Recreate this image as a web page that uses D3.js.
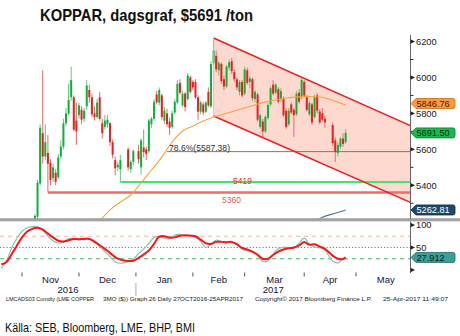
<!DOCTYPE html>
<html><head><meta charset="utf-8">
<script src="https://cdn.jsdelivr.net/npm/d3@7"></script>
<style>body{margin:0;background:#fff;} svg{display:block;}</style>
</head><body><svg id="c" width="460" height="336"></svg>
<script>
// ---------------- DATA ----------------
const title = "KOPPAR, dagsgraf, $5691 /ton";
const source = "Källa: SEB, Bloomberg, LME, BHP, BMI";
const footer = ["LMCADS03 Comdty (LME COPPER", "3MO ($)) Graph 26  Daily 27OCT2016-25APR2017", "Copyright© 2017 Bloomberg Finance L.P.", "25-Apr-2017 11:49:07"];
const firstDay = "2016-10-27", lastDay = "2017-04-25";
const holidays = ["2016-12-26", "2016-12-27", "2017-01-02", "2017-04-14", "2017-04-17"];

const opens  = [4840,4860,4870, 4890,4950,4985,4970,5020,5080,5225,5410,5690,5560,5580,5525,5440,5470,5445,5560,5615,5745,5800,5890,5890,5760,5790,5820,5770,5840,5930,5890,5800,5780,5890,5745,5725,5740,5745,5640,5540,5500,5490, 5600,5490,5530, 5590,5500,5610,5600,5590,5740,5770,5905,5860,5900,5760,5800,5755,5725,5805,5860,5970,5845,5910,5880,6000,5975,5975,5890,5810,5850,5810,5920,5840,6080,6120,6040,6075,5990,5950,6055,6090,6030,5990,5920,5975,5910,6040,5975,5990,5880,5905,5725,5755,5700,5775,5850,5960,5915,5935,5880,5880,5815,5740,5850,5820,5795,5915,5890,5975,5890,5795,5850,5780,5900,5810,5800,5770, 5735,5650,5580,5615,5660,5640];
const highs  = [4880,4890,4905, 4960,5000,5010,5030,5085,5240,5430,5740,6040,5740,5680,5545,5520,5490,5575,5650,5770,5830,5965,6060,5900,5860,5860,5840,5830,5985,5960,5910,5840,5880,5920,5770,5790,5790,5750,5655,5560,5530,5570, 5610,5540,5600, 5625,5660,5710,5615,5770,5780,5880,5925,5945,5910,5835,5825,5775,5815,5880,5985,5990,5925,5920,6025,6010,5985,5990,5900,5870,5865,5870,5945,6090,6215,6150,6090,6085,6010,6070,6100,6110,6045,6000,5985,5985,6060,6055,6010,6000,5930,5915,5800,5770,5790,5860,5950,5985,5970,5945,5940,5895,5830,5830,5860,5830,5925,5935,5997,5985,5900,5870,5860,5905,5915,5825,5830,5785, 5750,5665,5640,5670,5690,5712];
const lows   = [4820,4840,4850, 4880,4930,4950,4960,5000,5070,5200,5400,5520,5540,5360,5400,5420,5400,5435,5545,5600,5730,5790,5870,5700,5625,5770,5740,5750,5820,5860,5780,5760,5770,5760,5660,5710,5720,5620,5550,5455,5480,5419, 5480,5470,5510, 5520,5460,5555,5540,5580,5720,5760,5850,5845,5765,5740,5725,5680,5715,5795,5850,5905,5835,5810,5870,5910,5930,5880,5765,5795,5790,5800,5835,5830,6070,6030,6010,5965,5930,5940,6040,6020,5975,5930,5900,5890,5900,5960,5940,5870,5860,5755,5715,5669,5690,5765,5840,5900,5905,5855,5860,5780,5715,5730,5795,5669,5785,5855,5880,5890,5810,5785,5735,5770,5800,5740,5755,5720, 5620,5530,5560,5600,5615,5630];
const closes = [4860,4870,4885, 4950,4985,4970,5020,5075,5230,5415,5720,5560,5640,5520,5430,5500,5420,5555,5615,5745,5800,5875,5985,5710,5700,5845,5765,5815,5955,5890,5795,5780,5860,5770,5690,5760,5765,5640,5570,5495,5515,5540, 5500,5530,5590, 5545,5650,5585,5575,5760,5770,5865,5862,5930,5780,5815,5740,5720,5800,5865,5965,5915,5910,5835,6010,5920,5945,5890,5810,5860,5805,5860,5845,6075,6150,6045,6080,5980,5950,6060,6085,6035,5990,5945,5975,5900,6045,5970,5995,5885,5920,5765,5790,5700,5780,5847,5940,5910,5960,5865,5925,5790,5725,5815,5805,5790,5910,5865,5986,5900,5819,5858,5750,5890,5815,5750,5765,5750, 5635,5585,5625,5660,5630,5691.5];

// moving averages
const ma1Dates = ["2016-12-13","2016-12-19","2016-12-23","2016-12-29","2017-01-04","2017-01-10","2017-01-16","2017-01-20","2017-01-26","2017-02-01","2017-02-07","2017-02-13","2017-02-17","2017-02-23","2017-03-01","2017-03-07","2017-03-13","2017-03-17","2017-03-23","2017-03-29","2017-04-04","2017-04-12","2017-04-18","2017-04-20","2017-04-25"];
const ma1Values = [5201,5263,5307,5346,5413,5485,5557,5641,5702,5730,5758,5780,5797,5813,5830,5847,5864,5875,5886,5891,5894,5890,5872,5862,5846.76];
const ma2Dates = ["2017-04-07","2017-04-12","2017-04-19","2017-04-25"];
const ma2Values = [5200,5222,5245,5262.81];

// channel
const channelDates = ["2017-02-13", "2017-05-30"];
const channelUpper = [6220, 5732];
const channelLower = [5786, 5305];

// horizontal levels
const levelValues = [5419, 5360];
const levelStarts = ["2016-12-23", "2016-11-15"];
const levelLabels = ["5419", "5360"];
const fibValue = 5587.38, fibStart = "2017-01-18", fibLabel = "78.6%(5587.38)";

// oscillator
const rsiDates = ["2016-10-20","2016-10-24","2016-10-26","2016-10-28","2016-11-01","2016-11-03","2016-11-07","2016-11-09","2016-11-11","2016-11-15","2016-11-17","2016-11-21","2016-11-23","2016-11-25","2016-11-29","2016-12-01","2016-12-05","2016-12-07","2016-12-09","2016-12-13","2016-12-15","2016-12-19","2016-12-21","2016-12-23","2016-12-28","2016-12-30","2017-01-03","2017-01-05","2017-01-09","2017-01-11","2017-01-13","2017-01-17","2017-01-19","2017-01-23","2017-01-25","2017-01-27","2017-01-31","2017-02-02","2017-02-06","2017-02-08","2017-02-10","2017-02-14","2017-02-16","2017-02-20","2017-02-22","2017-02-24","2017-02-28","2017-03-02","2017-03-06","2017-03-08","2017-03-10","2017-03-14","2017-03-16","2017-03-20","2017-03-22","2017-03-24","2017-03-28","2017-03-30","2017-04-03","2017-04-05","2017-04-07","2017-04-11","2017-04-13","2017-04-18","2017-04-20","2017-04-24","2017-04-25"];
const rsiSlow = [12.5,18,35,54,72.5,85.5,91.5,94,89.5,81,72.5,65,63.5,66,69,68.5,69,69,62.5,55,47,38,28.5,23,20,20.5,27,34.5,43.5,58,74,75,72,72.5,76.2,77,76.2,75,67.5,59.5,58,62.5,62.5,61.6,62.5,57.5,49,45.5,41,34,24.5,25,33.3,41,45.5,48.5,50,54.5,62,56,57,52,47,32,25,24.4,27.912];
const rsiFast = [4,20,49,70,86,94,96.5,96,89,75.5,65,60,62,70,69,67,68,70,65,52.5,41,29.6,18,15,18.5,24.5,36,47,59,72,74,71,69,77.5,79,76.5,77,72,64,50,57,66.5,63.5,61.5,61,57,46,42.5,39,32,19,20,35,47,51,49.5,48.5,59,71,58,51,49.5,44,20,16,25,29.6];
const rsiLevels = [75, 50, 25];

// axes
const priceTicksMajor = [5400, 5600, 5800, 6000, 6200];
const priceTicksMinor = [5300, 5500, 5700, 5900, 6100];
const rsiTicks = [0, 50, 100];
const monthStarts = ["2016-11-01","2016-12-01","2017-01-02","2017-02-01","2017-03-01","2017-04-03","2017-05-01","2017-06-01"];
const monthLabels = ["Nov","Dec","Jan","Feb","Mar","Apr","May"];
const yearLabels = ["2016","2017"];

// tags
const tagValues = [5846.76, 5691.50, 5262.81];

// ---------------- HELPERS ----------------
const DAY = 864e5;
const base = Date.UTC(2016, 10, 1);
function parse(s){ const [y,m,d] = s.split("-").map(Number); return Date.UTC(y, m-1, d); }
function wdIndex(s){
  const days = Math.round((parse(s) - base) / DAY);
  const w = Math.floor(days / 7), r = days - 7 * w;
  return 5 * w + [0,1,2,3,4,4,4][r];
}
function fmtDate(t){ const d = new Date(t); return d.toISOString().slice(0,10); }
const tradingDays = [];
for (let t = parse(firstDay); t <= parse(lastDay); t += DAY) {
  const wd = new Date(t).getUTCDay();
  const s = fmtDate(t);
  if (wd === 0 || wd === 6 || holidays.includes(s)) continue;
  tradingDays.push(s);
}
const candles = tradingDays.map((d,i) => ({d, o:opens[i], h:highs[i], l:lows[i], c:closes[i]}));

// ---------------- SCALES ----------------
const svg = d3.select("#c");
const FONT = "'Liberation Sans', Arial, sans-serif";
const axisX = 410.5;
const x = d3.scaleLinear().domain([0, 129]).range([22, 356]);
const y = d3.scaleLinear().domain([5400, 6200]).range([185.3, 41.5]);
const yr = d3.scaleLinear().domain([0, 100]).range([270, 225]);
const xd = s => x(wdIndex(s));

const defs = svg.append("defs");
defs.append("clipPath").attr("id","cp").append("rect").attr("x",0).attr("y",33).attr("width",axisX).attr("height",185.5);
defs.append("clipPath").attr("id","cr").append("rect").attr("x",0).attr("y",222).attr("width",axisX).attr("height",50);

// ---------------- TITLE ----------------
svg.append("text").attr("x",40).attr("y",21).text(title)
  .attr("font-family","'Liberation Sans Narrow', 'Arial Narrow', 'Liberation Sans', sans-serif")
  .attr("font-weight","bold").attr("font-size",17).attr("fill","#111")
  .attr("textLength",213).attr("lengthAdjust","spacingAndGlyphs");

// ---------------- PRICE PANEL ----------------
const gp = svg.append("g").attr("clip-path","url(#cp)");
const cx0 = xd(channelDates[0]), cx1 = xd(channelDates[1]);
gp.append("path")
  .attr("d", `M${cx0},${y(channelUpper[0])}L${cx1},${y(channelUpper[1])}L${cx1},${y(channelLower[1])}L${cx0},${y(channelLower[0])}Z`)
  .attr("fill","#fdd9d0");
gp.append("line").attr("x1",xd(fibStart)).attr("x2",axisX).attr("y1",y(fibValue)).attr("y2",y(fibValue))
  .attr("stroke","#8c7470").attr("stroke-width",1);
const levelColors = ["#3fe86a", "#f26b6b"];
const levelWidths = [2, 2.6];
levelValues.forEach((v,i) => {
  gp.append("line").attr("x1",xd(levelStarts[i])).attr("x2",axisX).attr("y1",y(v)).attr("y2",y(v))
    .attr("stroke",levelColors[i]).attr("stroke-width",levelWidths[i]);
});
const cg = gp.append("g");
candles.forEach(k => {
  const cx = x(wdIndex(k.d));
  const up = k.c >= k.o;
  cg.append("line").attr("x1",cx).attr("x2",cx).attr("y1",y(k.h)).attr("y2",y(k.l))
    .attr("stroke", up ? "#5ccb7c" : "#f06868").attr("stroke-width",1);
  const top = y(Math.max(k.o,k.c)), bot = y(Math.min(k.o,k.c));
  cg.append("rect").attr("x",cx-1).attr("width",2).attr("y",top).attr("height",Math.max(1,bot-top))
    .attr("fill", up ? "#0bb33e" : "#f01c1c");
});
[channelUpper, channelLower].forEach(v => {
  gp.append("line").attr("x1",cx0).attr("x2",cx1).attr("y1",y(v[0])).attr("y2",y(v[1]))
    .attr("stroke","#ee1f1f").attr("stroke-width",1.6);
});
gp.append("line").attr("x1",cx0).attr("x2",cx0).attr("y1",y(channelUpper[0])).attr("y2",y(channelLower[0]))
  .attr("stroke","#f4a7a0").attr("stroke-width",0.8);
const maLine = d3.line().x(d=>xd(d[0])).y(d=>y(d[1])).curve(d3.curveMonotoneX);
gp.append("path").attr("d", maLine(ma1Dates.map((d,i)=>[d,ma1Values[i]])))
  .attr("fill","none").attr("stroke","#ffa040").attr("stroke-width",1.1);
gp.append("path").attr("d", maLine(ma2Dates.map((d,i)=>[d,ma2Values[i]])))
  .attr("fill","none").attr("stroke","#4d7595").attr("stroke-width",1.1);
svg.append("text").attr("x",233).attr("y",y(levelValues[0])+2).text(levelLabels[0])
  .attr("font-family",FONT).attr("font-size",8.5).attr("fill","#ff2a2a");
svg.append("text").attr("x",222).attr("y",y(levelValues[1])+10.5).text(levelLabels[1])
  .attr("font-family",FONT).attr("font-size",8.5).attr("fill","#e85a5a");
svg.append("text").attr("x",169).attr("y",y(fibValue)-1).text(fibLabel)
  .attr("font-family",FONT).attr("font-size",9.5).attr("fill","#333")
  .attr("textLength",61).attr("lengthAdjust","spacingAndGlyphs");

// ---------------- SEPARATOR ----------------
svg.append("rect").attr("x",0).attr("y",218.8).attr("width",460).attr("height",2.6).attr("fill","#a6a6a6");
svg.append("line").attr("x1",0).attr("x2",460).attr("y1",218.8).attr("y2",218.8).attr("stroke","#8a8a8a").attr("stroke-width",0.8);

// ---------------- RSI PANEL ----------------
const gr = svg.append("g").attr("clip-path","url(#cr)");
const rsiLevelStyle = [["#ffb495","4,4"],["#3a9a9a","1.2,2"],["#3cbb5c","4,4"]];
rsiLevels.forEach((v,i) => {
  gr.append("line").attr("x1",0).attr("x2",axisX).attr("y1",yr(v)).attr("y2",yr(v))
    .attr("stroke",rsiLevelStyle[i][0]).attr("stroke-width",1).attr("stroke-dasharray",rsiLevelStyle[i][1]);
});
gr.append("path").attr("d", d3.line().x((d,i)=>xd(rsiDates[i])).y(d=>yr(d)).curve(d3.curveCatmullRom)(rsiFast))
  .attr("fill","none").attr("stroke","#82c2bc").attr("stroke-width",1.2);
gr.append("path").attr("d", d3.line().x((d,i)=>xd(rsiDates[i])).y(d=>yr(d)).curve(d3.curveCatmullRom)(rsiSlow))
  .attr("fill","none").attr("stroke","#ff1414").attr("stroke-width",2);

// ---------------- RIGHT AXIS ----------------
svg.append("line").attr("x1",axisX).attr("x2",axisX).attr("y1",35).attr("y2",218.8).attr("stroke","#666").attr("stroke-width",1);
svg.append("line").attr("x1",axisX).attr("x2",axisX).attr("y1",221.4).attr("y2",273).attr("stroke","#666").attr("stroke-width",1);
const arrow = (yy) => `M${axisX},${yy-2.2}L${axisX+4.5},${yy}L${axisX},${yy+2.2}Z`;
priceTicksMajor.forEach(v => {
  svg.append("path").attr("d",arrow(y(v))).attr("fill","#222");
  svg.append("text").attr("x",416).attr("y",y(v)+3.8).text(d3.format("d")(v))
    .attr("font-family",FONT).attr("font-size",9.3).attr("fill","#1a1a2a");
});
priceTicksMinor.forEach(v => {
  svg.append("line").attr("x1",axisX).attr("x2",axisX+3).attr("y1",y(v)).attr("y2",y(v)).attr("stroke","#333");
});
rsiTicks.forEach(v => {
  svg.append("path").attr("d",arrow(yr(v))).attr("fill","#222");
  if (v > 0) svg.append("text").attr("x",416).attr("y",yr(v)+3.4).text(v)
    .attr("font-family",FONT).attr("font-size",9.3).attr("fill","#1a1a2a");
});

function tag(yy, text, fill, stroke, color){
  const x0 = 411, w = 44, h = 10;
  const t = yy - h/2, b = yy + h/2, r = x0 + w;
  svg.append("path")
    .attr("d", `M${x0},${yy}L${x0+5},${t}L${r-2},${t}Q${r},${t} ${r},${t+2}L${r},${b-2}Q${r},${b} ${r-2},${b}L${x0+5},${b}Z`)
    .attr("fill",fill).attr("stroke",stroke).attr("stroke-width",0.8);
  svg.append("text").attr("x",x0+5.5).attr("y",yy+3.2).text(text)
    .attr("font-family",FONT).attr("font-size",9.2).attr("fill",color);
}
tag(y(tagValues[0]) - 1.5, d3.format(".2f")(tagValues[0]), "#ff9a3c", "#c86a10", "#3a1a00");
tag(y(tagValues[1]), d3.format(".2f")(tagValues[1]), "#14bb4e", "#0a7a30", "#0a2a10");
tag(y(tagValues[2]), d3.format(".2f")(tagValues[2]), "#1d4a6c", "#0c2a40", "#ffffff");
tag(yr(rsiSlow[rsiSlow.length-1]), d3.format(".3f")(rsiSlow[rsiSlow.length-1]), "#3b9e97", "#1d6a64", "#0a1a1a");

// ---------------- X AXIS ----------------
const tickY = 272.5;
monthStarts.slice(0,7).forEach(s => {
  svg.append("line").attr("x1",xd(s)).attr("x2",xd(s)).attr("y1",tickY).attr("y2",tickY+4).attr("stroke","#555");
});
monthLabels.forEach((m,i) => {
  const mid = (xd(monthStarts[i]) + Math.min(xd(monthStarts[i+1]), 416)) / 2;
  svg.append("text").attr("x",mid).attr("y",282.5).attr("text-anchor","middle").text(m)
    .attr("font-family",FONT).attr("font-size",9.5).attr("fill","#14143a");
});
const yearSplit = xd(monthStarts[2]);
svg.append("line").attr("x1",yearSplit).attr("x2",yearSplit).attr("y1",283).attr("y2",296).attr("stroke","#aaa");
svg.append("text").attr("x",yearSplit/2).attr("y",292.5).attr("text-anchor","middle").text(yearLabels[0])
  .attr("font-family",FONT).attr("font-size",9.5).attr("fill","#14143a");
svg.append("text").attr("x",(yearSplit+axisX)/2).attr("y",292.5).attr("text-anchor","middle").text(yearLabels[1])
  .attr("font-family",FONT).attr("font-size",9.5).attr("fill","#14143a");

const fx = [6, 103, 255, 383], fw = [88, 140, 117, 65];
footer.forEach((t,i) => {
  svg.append("text").attr("x",fx[i]).attr("y",300.5).text(t)
    .attr("font-family",FONT).attr("font-size",5.8).attr("fill","#222")
    .attr("textLength",fw[i]).attr("lengthAdjust","spacingAndGlyphs");
});

svg.append("text").attr("x",5).attr("y",331.5).text(source)
  .attr("font-family","'Liberation Sans Narrow', 'Arial Narrow', 'Liberation Sans', sans-serif")
  .attr("font-size",13).attr("fill","#111")
  .attr("textLength",190).attr("lengthAdjust","spacingAndGlyphs");
</script>
</body></html>
